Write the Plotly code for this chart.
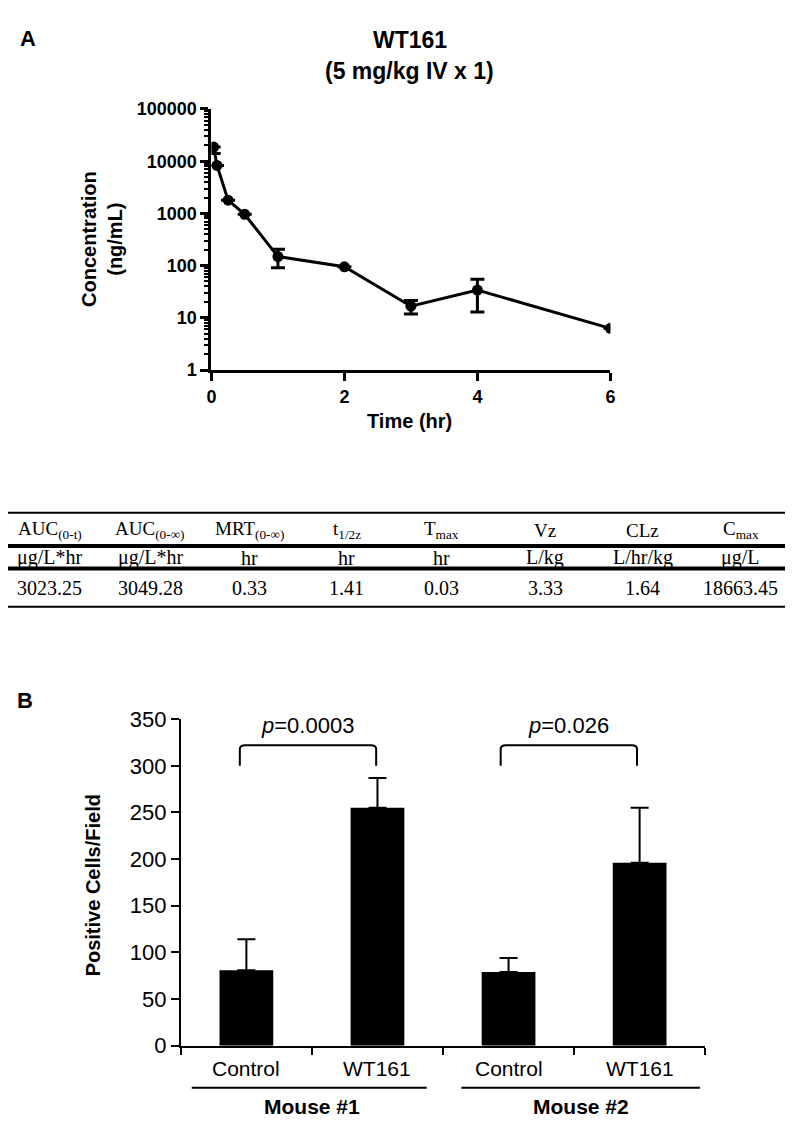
import plotly.graph_objects as go

W, H = 793, 1128
OX, OY = 8, 8  # default page body margin of the written HTML

# ---------------- Data ----------------
pk_time = [0.033, 0.083, 0.25, 0.5, 1, 2, 3, 4, 6]
pk_conc = [18663, 8300, 1790, 960, 149, 95, 16.7, 34, 6.3]
pk_sd_plus = [0, 0, 0, 0, 58, 0, 4.8, 21, 0]
pk_sd_minus = [4600, 0, 0, 0, 58, 0, 4.8, 21, 0]

table_headers = ["AUC<sub>(0-t)</sub>", "AUC<sub>(0-∞)</sub>", "MRT<sub>(0-∞)</sub>",
                 "t<sub>1/2z</sub>", "T<sub>max</sub>", "Vz", "CLz", "C<sub>max</sub>"]
table_units = ["μg/L*hr", "μg/L*hr", "hr", "hr", "hr", "L/kg", "L/hr/kg", "μg/L"]
table_values = ["3023.25", "3049.28", "0.33", "1.41", "0.03", "3.33", "1.64", "18663.45"]

bar_groups = ["Mouse #1", "Mouse #2"]
bar_labels = ["Control", "WT161", "Control", "WT161"]
bar_values = [81, 255, 79, 196]
bar_err = [33, 32, 15, 59]
p_values = ["0.0003", "0.026"]

# ---------------- helpers ----------------
def xp(px):
    return (px - OX) / W

def yp(py):
    return 1 - (py - OY) / H

SANS = "Liberation Sans, Arial, Helvetica, sans-serif"
SERIF = "Liberation Serif, Times New Roman, serif"

fig = go.Figure()

# Panel A
fig.add_trace(go.Scatter(
    x=pk_time, y=pk_conc, mode="lines+markers",
    line=dict(color="black", width=3),
    marker=dict(color="black", size=11),
    error_y=dict(type="data", array=pk_sd_plus, arrayminus=pk_sd_minus,
                 symmetric=False, visible=True, color="black",
                 thickness=3, width=7),
    xaxis="x", yaxis="y", showlegend=False,
))

# Panel B
bar_x = list(range(len(bar_values)))
fig.add_trace(go.Bar(
    x=bar_x, y=bar_values, width=0.41,
    marker=dict(color="black", line=dict(width=0)),
    error_y=dict(type="data", array=bar_err, arrayminus=[0] * len(bar_err),
                 symmetric=False, visible=True, color="black",
                 thickness=2, width=9),
    xaxis="x2", yaxis="y2", showlegend=False,
))

fig.update_layout(
    width=W, height=H,
    margin=dict(l=0, r=0, t=0, b=0),
    paper_bgcolor="white", plot_bgcolor="white",
    font=dict(family=SANS, color="black"),
    xaxis=dict(
        domain=[xp(209), xp(613)], anchor="y",
        range=[0, 6], tickvals=[0, 2, 4, 6],
        showline=True, linewidth=3, linecolor="black",
        ticks="outside", ticklen=8, tickwidth=3, tickcolor="black",
        showgrid=False, zeroline=False,
        tickfont=dict(family=SANS, size=18, color="black", weight="bold"),
    ),
    yaxis=dict(
        domain=[yp(366), yp(99)], anchor="x",
        type="log", range=[0, 5],
        tickvals=[1, 10, 100, 1000, 10000, 100000],
        ticktext=["1", "10", "100", "1000", "10000", "100000"],
        showline=True, linewidth=3, linecolor="black",
        ticks="outside", ticklen=8, tickwidth=3, tickcolor="black",
        minor=dict(ticks="outside", ticklen=4, tickwidth=2, tickcolor="black",
                   dtick="D1", showgrid=False),
        showgrid=False, zeroline=False,
        tickfont=dict(family=SANS, size=18, color="black", weight="bold"),
    ),
    xaxis2=dict(
        domain=[xp(178), xp(709)], anchor="y2",
        range=[-0.5, 3.5],
        tickvals=[-0.5, 0.5, 1.5, 2.5, 3.5], showticklabels=False,
        ticks="outside", ticklen=7, tickwidth=2, tickcolor="black",
        showline=True, linewidth=2, linecolor="black",
        showgrid=False, zeroline=False,
    ),
    yaxis2=dict(
        domain=[yp(1057), yp(723)], anchor="x2",
        range=[0, 350], dtick=50,
        showline=True, linewidth=2, linecolor="black",
        ticks="outside", ticklen=8, tickwidth=2, tickcolor="black",
        showgrid=False, zeroline=False,
        tickfont=dict(family=SANS, size=22, color="black"),
    ),
)

ann = []
shapes = []

def add_text(text, x, y, size, family=SANS, xref="paper", yref="paper", angle=0):
    ann.append(dict(text=text, x=x, y=y, xref=xref, yref=yref, showarrow=False,
                    xanchor="center", yanchor="middle", textangle=angle,
                    font=dict(size=size, family=family, color="black")))

# Panel labels
add_text("<b>A</b>", xp(23), yp(27), 22)
add_text("<b>B</b>", xp(20), yp(704), 22)

# Panel A title and axis titles
add_text("<b>WT161</b>", xp(410), yp(28), 23)
add_text("<b>(5 mg/kg IV x 1)</b>", xp(410), yp(60), 23)
add_text("<b>Concentration<br>(ng/mL)</b>", xp(98), yp(232), 20, angle=-90)
add_text("<b>Time (hr)</b>", xp(410), yp(418), 20)

# Table
col_x = [45, 147, 248, 346, 442, 547, 646, 745]
for i, cx in enumerate(col_x):
    add_text(table_headers[i], xp(cx), yp(530), 19, SERIF)
    add_text(table_units[i], xp(cx), yp(558), 20, SERIF)
    add_text(table_values[i], xp(cx), yp(589), 20, SERIF)
for py, lw in [(512, 2), (546, 4), (569, 4), (608, 2)]:
    shapes.append(dict(type="line", xref="paper", yref="paper",
                       x0=xp(2), x1=xp(791), y0=yp(py), y1=yp(py),
                       line=dict(color="black", width=lw)))

# Panel B axis title
add_text("<b>Positive Cells/Field</b>", xp(89), yp(893), 20, angle=-90)

# Category labels under the bars
for i, lab in enumerate(bar_labels):
    add_text(lab, bar_x[i], yp(1080), 21, xref="x2")

# Brackets with p-values
brackets = [(-0.05, 0.99), (1.94, 2.98)]
for (a, b), pv in zip(brackets, p_values):
    path = (f"M {a},300 L {a},318 Q {a},322 {a+0.04},322 "
            f"L {b-0.04},322 Q {b},322 {b},318 L {b},300")
    shapes.append(dict(type="path", path=path, xref="x2", yref="y2",
                       line=dict(color="black", width=2)))
    add_text("<i>p</i>=" + pv, (a + b) / 2, yp(729), 22, xref="x2")

# Group labels and underlines
group_lines = [(-0.417, 1.376), (1.64, 3.46)]
group_centers = [0.5, 2.55]
for (a, b), g, c in zip(group_lines, bar_groups, group_centers):
    shapes.append(dict(type="line", xref="x2", yref="paper", x0=a, x1=b,
                       y0=yp(1100), y1=yp(1100), line=dict(color="black", width=2)))
    add_text(f"<b>{g}</b>", c, yp(1119), 21, xref="x2")

fig.update_layout(annotations=ann, shapes=shapes)

fig.write_html("out.html")
